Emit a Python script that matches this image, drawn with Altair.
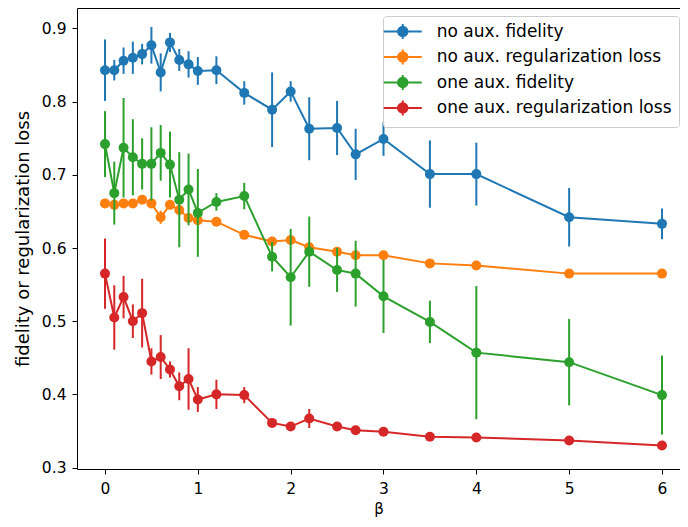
import altair as alt
import pandas as pd

beta = [0, 0.1, 0.2, 0.3, 0.4, 0.5, 0.6, 0.7, 0.8, 0.9, 1.0, 1.2, 1.5, 1.8, 2.0,
        2.2, 2.5, 2.7, 3.0, 3.5, 4.0, 5.0, 6.0]

series_names = ["no aux. fidelity", "no aux. regularization loss",
                "one aux. fidelity", "one aux. regularization loss"]
colors = ["#1f77b4", "#ff7f0e", "#2ca02c", "#d62728"]

no_aux_fid = [0.843, 0.843, 0.856, 0.860, 0.865, 0.877, 0.840, 0.881, 0.857, 0.851,
              0.842, 0.843, 0.812, 0.789, 0.814, 0.763, 0.764, 0.728, 0.749, 0.701,
              0.701, 0.642, 0.633]
no_aux_fid_err = [0.042, 0.014, 0.018, 0.022, 0.014, 0.025, 0.026, 0.013, 0.015, 0.018,
                  0.019, 0.019, 0.016, 0.051, 0.014, 0.043, 0.037, 0.035, 0.023, 0.046,
                  0.043, 0.040, 0.021]

no_aux_reg = [0.661, 0.659, 0.661, 0.661, 0.666, 0.661, 0.642, 0.659, 0.652, 0.641,
              0.638, 0.636, 0.618, 0.609, 0.611, 0.601, 0.595, 0.590, 0.590, 0.579,
              0.576, 0.565, 0.565]
no_aux_reg_err = [0.004, 0.003, 0.004, 0.004, 0.005, 0.004, 0.009, 0.003, 0.005, 0.004,
                  0.004, 0.003, 0.003, 0.003, 0.003, 0.003, 0.003, 0.003, 0.003, 0.002,
                  0.002, 0.002, 0.002]

one_aux_fid = [0.742, 0.675, 0.737, 0.724, 0.715, 0.715, 0.730, 0.714, 0.666, 0.680,
               0.648, 0.663, 0.671, 0.588, 0.560, 0.595, 0.570, 0.565, 0.534, 0.499,
               0.457, 0.444, 0.399]
one_aux_fid_err = [0.045, 0.043, 0.068, 0.052, 0.035, 0.050, 0.038, 0.045, 0.065, 0.049,
                   0.060, 0.012, 0.018, 0.020, 0.066, 0.048, 0.030, 0.045, 0.050, 0.029,
                   0.091, 0.059, 0.054]

one_aux_reg = [0.565, 0.505, 0.533, 0.500, 0.511, 0.445, 0.451, 0.434, 0.411, 0.421,
               0.393, 0.400, 0.399, 0.361, 0.356, 0.367, 0.356, 0.351, 0.349, 0.342,
               0.341, 0.337, 0.330]
one_aux_reg_err = [0.048, 0.044, 0.029, 0.023, 0.047, 0.018, 0.030, 0.011, 0.019, 0.042,
                   0.017, 0.020, 0.011, 0.005, 0.006, 0.013, 0.006, 0.004, 0.004, 0.003,
                   0.004, 0.004, 0.003]

x_ticks = [0, 1, 2, 3, 4, 5, 6]
y_ticks = [0.3, 0.4, 0.5, 0.6, 0.7, 0.8, 0.9]

all_vals = [no_aux_fid, no_aux_reg, one_aux_fid, one_aux_reg]
all_errs = [no_aux_fid_err, no_aux_reg_err, one_aux_fid_err, one_aux_reg_err]

rows = []
for name, vals, errs in zip(series_names, all_vals, all_errs):
    for b, v, e in zip(beta, vals, errs):
        rows.append(dict(beta=b, value=v, lo=v - e, hi=v + e, series=name))
df = pd.DataFrame(rows)

FONT = "DejaVu Sans"
W, H = 603, 461

xs = alt.Scale(domain=[-0.3016, 6.194], nice=False, zero=False)
ys = alt.Scale(domain=[0.298, 0.928], nice=False, zero=False)
cs = alt.Scale(domain=series_names, range=colors)

SYMBOL = ("M-3.8,0H3.8M0,-1.5V1.5"
          "M0.95,0A0.95,0.95,0,1,1,-0.95,0A0.95,0.95,0,1,1,0.95,0Z")

legend = alt.Legend(
    title=None, orient="none", legendX=306, legendY=8,
    symbolType=SYMBOL, symbolSize=100, symbolStrokeWidth=2,
    symbolOffset=4.25, labelOffset=25.5, symbolOpacity=1,
    labelFontSize=17, labelFont=FONT, labelColor="black", labelLimit=400,
    rowPadding=2.5, padding=7,
    fillColor="rgba(255,255,255,0.8)", strokeColor="#cccccc", cornerRadius=3,
)

x_axis = alt.Axis(values=x_ticks, format="d", title="β", orient="bottom",
                  labelPadding=7, titlePadding=5, titleFontSize=15)
y_axis = alt.Axis(values=y_ticks, format=".1f",
                  title="fidelity or regularization loss",
                  labelPadding=6, titlePadding=9, titleFontSize=18)

layers = []
for name in series_names:
    base = alt.Chart(df).transform_filter(alt.datum.series == name)
    enc_x = alt.X("beta:Q", scale=xs, axis=x_axis)
    col = alt.Color("series:N", scale=cs, legend=legend)
    line = base.mark_line(strokeWidth=2).encode(
        x=enc_x, y=alt.Y("value:Q", scale=ys, axis=y_axis), color=col)
    bars = base.mark_rule(strokeWidth=2).encode(
        x=enc_x, y=alt.Y("lo:Q", scale=ys, axis=y_axis), y2="hi:Q", color=col)
    pts = base.mark_circle(size=100, opacity=1).encode(
        x=enc_x, y=alt.Y("value:Q", scale=ys, axis=y_axis), color=col)
    layers += [line, bars, pts]

inner = alt.layer(*layers)

top_border = alt.Chart(df).mark_point(opacity=0).encode(
    x=alt.X("beta:Q", scale=xs,
            axis=alt.Axis(orient="top", labels=False, ticks=False, title=None,
                          domain=True))
)

chart = (
    alt.layer(inner, top_border)
    .resolve_axis(x="independent")
    .properties(width=W, height=H,
                autosize=alt.AutoSizeParams(type="none"),
                padding={"left": 69, "top": 0, "right": 0, "bottom": 50})
    .configure_view(stroke=None)
    .configure_axis(
        labelFont=FONT, labelFontSize=15.5, labelColor="black",
        titleFont=FONT, titleColor="black", titleFontWeight="normal",
        tickColor="black", tickSize=5, tickWidth=1,
        domainColor="black", domainWidth=1, grid=False,
        labelFlush=False, labelOverlap=False,
    )
)

chart.save("out.html", embed_options={"renderer": "svg", "actions": False})
